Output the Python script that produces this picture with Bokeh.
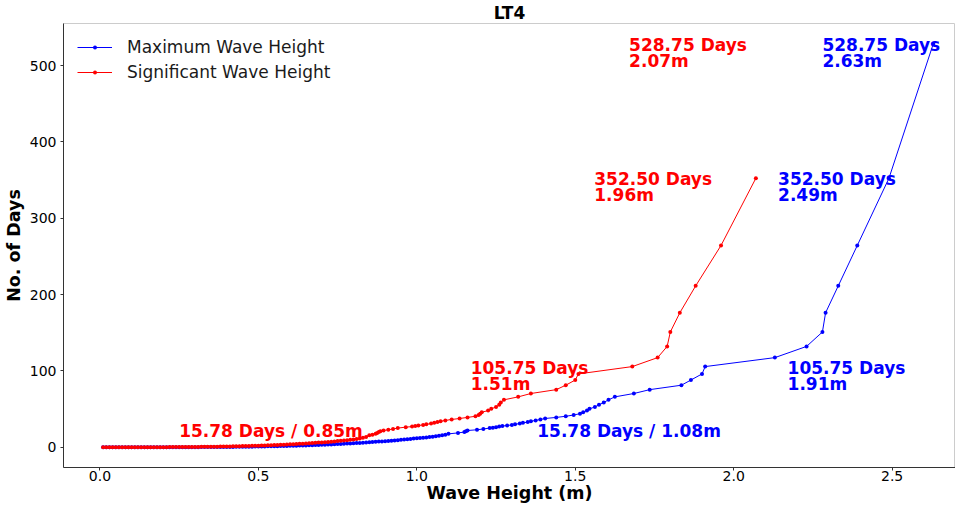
from bokeh.plotting import figure
from bokeh.models import Range1d, FixedTicker, PrintfTickFormatter, Legend, LegendItem, Label
from bokeh.core.properties import value
from bokeh.embed import file_html
from bokeh.resources import INLINE

# ---------------- data ----------------
title_text = "LT4"
x_label = "Wave Height (m)"
y_label = "No. of Days"
series_names = ["Maximum Wave Height", "Significant Wave Height"]
series_colors = ["#0000ff", "#ff0000"]
x_ticks = [0.0, 0.5, 1.0, 1.5, 2.0, 2.5]
y_ticks = [0, 100, 200, 300, 400, 500]
x_view = [-0.115, 2.70]      # visible x window of the reference (right side cropped)

# Maximum wave height (m) vs return period (days)
max_height = [
    0.01, 0.02, 0.03, 0.04, 0.05, 0.06, 0.07, 0.08, 0.09, 0.10,
    0.11, 0.12, 0.13, 0.14, 0.15, 0.16, 0.17, 0.18, 0.19, 0.20,
    0.21, 0.22, 0.23, 0.24, 0.25, 0.26, 0.27, 0.28, 0.29, 0.30,
    0.31, 0.32, 0.33, 0.34, 0.35, 0.36, 0.37, 0.38, 0.39, 0.40,
    0.41, 0.42, 0.43, 0.44, 0.45, 0.46, 0.47, 0.48, 0.49, 0.50,
    0.51, 0.52, 0.53, 0.54, 0.55, 0.56, 0.57, 0.58, 0.59, 0.60,
    0.61, 0.62, 0.63, 0.64, 0.65, 0.66, 0.67, 0.68, 0.69, 0.70,
    0.71, 0.72, 0.73, 0.74, 0.75, 0.76, 0.77, 0.78, 0.79, 0.80,
    0.81, 0.82, 0.83, 0.84, 0.85, 0.86, 0.87, 0.88, 0.89, 0.90,
    0.91, 0.92, 0.93, 0.94, 0.95, 0.96, 0.97, 0.98, 0.99, 1.00,
    1.01, 1.02, 1.03, 1.04, 1.05, 1.06, 1.07, 1.08,
    1.09, 1.10, 1.13, 1.15, 1.155, 1.16, 1.19, 1.21, 1.23, 1.24,
    1.25, 1.26, 1.27, 1.285, 1.30, 1.31, 1.325, 1.335, 1.35, 1.36,
    1.375, 1.39, 1.405, 1.44, 1.47, 1.495, 1.515, 1.525, 1.537, 1.545,
    1.562, 1.575, 1.59, 1.605, 1.625, 1.685, 1.735, 1.835, 1.865, 1.90,
    1.91, 2.13, 2.23, 2.28, 2.29, 2.33, 2.39, 2.49, 2.63,
]
max_days = [
    0.03, 0.03, 0.03, 0.03, 0.04, 0.04, 0.04, 0.04, 0.05, 0.05,
    0.05, 0.06, 0.06, 0.06, 0.07, 0.07, 0.08, 0.08, 0.09, 0.10,
    0.11, 0.12, 0.13, 0.14, 0.15, 0.16, 0.18, 0.19, 0.21, 0.23,
    0.25, 0.27, 0.29, 0.31, 0.34, 0.37, 0.40, 0.43, 0.46, 0.50,
    0.54, 0.58, 0.62, 0.67, 0.72, 0.77, 0.83, 0.89, 0.95, 1.02,
    1.09, 1.16, 1.24, 1.32, 1.41, 1.50, 1.60, 1.70, 1.80, 1.91,
    2.02, 2.14, 2.26, 2.39, 2.52, 2.66, 2.80, 2.95, 3.10, 3.30,
    3.48, 3.66, 3.85, 4.05, 4.25, 4.46, 4.67, 4.88, 5.10, 5.30,
    5.55, 5.80, 6.05, 6.30, 6.60, 6.90, 7.20, 7.50, 7.75, 8.00,
    8.30, 8.60, 9.00, 9.40, 9.80, 10.20, 10.60, 11.00, 11.40, 11.80,
    12.20, 12.60, 13.00, 13.40, 13.90, 14.40, 15.00, 15.78,
    16.52, 17.63, 18.88, 19.95, 21.15, 22.03, 22.99, 24.03, 25.18, 25.79,
    26.44, 27.12, 27.83, 28.58, 29.38, 30.21, 31.10, 32.05, 33.05, 34.11,
    35.25, 36.47, 37.77, 39.17, 40.67, 42.30, 44.06, 45.98, 48.07, 50.36,
    52.88, 55.66, 58.75, 62.21, 66.09, 70.50, 75.54, 81.35, 88.13, 96.14,
    105.75, 117.50, 132.19, 151.07, 176.25, 211.50, 264.38, 352.50, 528.75,
]

# Significant wave height (m) vs return period (days)
sig_height = [
    0.01, 0.02, 0.03, 0.04, 0.05, 0.06, 0.07, 0.08, 0.09, 0.10,
    0.11, 0.12, 0.13, 0.14, 0.15, 0.16, 0.17, 0.18, 0.19, 0.20,
    0.21, 0.22, 0.23, 0.24, 0.25, 0.26, 0.27, 0.28, 0.29, 0.30,
    0.31, 0.32, 0.33, 0.34, 0.35, 0.36, 0.37, 0.38, 0.39, 0.40,
    0.41, 0.42, 0.43, 0.44, 0.45, 0.46, 0.47, 0.48, 0.49, 0.50,
    0.51, 0.52, 0.53, 0.54, 0.55, 0.56, 0.57, 0.58, 0.59, 0.60,
    0.61, 0.62, 0.63, 0.64, 0.65, 0.66, 0.67, 0.68, 0.69, 0.70,
    0.71, 0.72, 0.73, 0.74, 0.75, 0.76, 0.77, 0.78, 0.79, 0.80,
    0.81, 0.82, 0.83, 0.84, 0.85,
    0.86, 0.87, 0.875, 0.88, 0.885, 0.895, 0.91, 0.925, 0.94, 0.965,
    0.985, 0.995, 1.005, 1.02, 1.03, 1.045, 1.055, 1.065, 1.075, 1.09,
    1.11, 1.135, 1.16, 1.185, 1.195, 1.20, 1.205, 1.225, 1.235, 1.25,
    1.26, 1.265, 1.275, 1.32, 1.36, 1.44, 1.47, 1.50, 1.51, 1.68,
    1.76, 1.79, 1.80, 1.83, 1.88, 1.96, 2.07,
]
sig_days = [
    0.05, 0.05, 0.06, 0.06, 0.07, 0.07, 0.08, 0.08, 0.09, 0.10,
    0.11, 0.12, 0.13, 0.14, 0.15, 0.16, 0.18, 0.19, 0.21, 0.23,
    0.25, 0.27, 0.29, 0.32, 0.35, 0.38, 0.41, 0.45, 0.49, 0.53,
    0.57, 0.62, 0.67, 0.72, 0.78, 0.84, 0.90, 0.97, 1.04, 1.12,
    1.20, 1.29, 1.38, 1.48, 1.58, 1.69, 1.80, 1.92, 2.05, 2.18,
    2.32, 2.47, 2.62, 2.78, 2.95, 3.12, 3.30, 3.49, 3.69, 3.90,
    4.12, 4.35, 4.58, 4.82, 5.07, 5.33, 5.60, 5.88, 6.17, 6.47,
    6.78, 7.10, 7.43, 7.78, 8.14, 8.52, 8.92, 9.34, 9.78, 10.25,
    10.80, 11.50, 12.40, 13.60, 15.78,
    16.52, 17.63, 18.88, 19.95, 21.15, 22.03, 22.99, 24.03, 25.18, 26.44,
    27.12, 27.83, 28.58, 29.38, 30.21, 31.10, 32.05, 33.05, 34.11, 35.25,
    36.47, 37.77, 39.17, 40.67, 42.30, 44.06, 45.98, 48.07, 50.36, 52.88,
    55.66, 58.75, 62.21, 66.09, 70.50, 75.54, 81.35, 88.13, 96.14, 105.75,
    117.50, 132.19, 151.07, 176.25, 211.50, 264.38, 352.50, 528.75,
]

# annotated points (height, days)
max_notes_h = [1.08, 1.91, 2.49, 2.63]
max_notes_d = [15.78, 105.75, 352.50, 528.75]
sig_notes_h = [0.85, 1.51, 1.96, 2.07]
sig_notes_d = [15.78, 105.75, 352.50, 528.75]

FONT = "DejaVu Sans"

all_d = max_days + sig_days
hy = (max(all_d) - min(0, min(all_d))) * 0.05

p = figure(width=955, height=503, output_backend="svg", toolbar_location=None,
           x_range=Range1d(x_view[0], x_view[1]),
           y_range=Range1d(0 - hy, max(all_d) + hy),
           min_border_left=57, min_border_right=0, min_border_top=22, min_border_bottom=20)

p.title.text = title_text
p.title.align = "center"
p.title.text_font = FONT
p.title.text_font_size = "17px"
p.title.text_font_style = "bold"
p.title.text_color = "#000000"
p.title.standoff = 1

p.background_fill_color = "white"
p.border_fill_color = "white"
p.outline_line_color = "#cccccc"
p.xgrid.visible = False
p.ygrid.visible = False

for ax in (p.xaxis, p.yaxis):
    ax.axis_line_color = "#333333"
    ax.major_tick_line_color = "#333333"
    ax.major_tick_in = 0
    ax.major_tick_out = 3
    ax.minor_tick_line_color = None
    ax.major_label_text_font = FONT
    ax.major_label_text_font_size = "14px"
    ax.major_label_text_color = "#000000"
    ax.axis_label_text_font = FONT
    ax.axis_label_text_font_size = "17.5px"
    ax.axis_label_text_font_style = "bold"
    ax.axis_label_text_color = "#000000"

p.xaxis.ticker = FixedTicker(ticks=x_ticks)
p.xaxis.formatter = PrintfTickFormatter(format="%.1f")
p.yaxis.ticker = FixedTicker(ticks=y_ticks)
p.yaxis.axis_label = y_label
p.xaxis.major_label_standoff = 0
p.yaxis.major_label_standoff = 4
p.yaxis.axis_label_standoff = 3

# x-axis title drawn as a label in the panel below the x axis
p.add_layout(Label(x=(x_view[0] + x_view[1]) / 2, y=11, x_units="data", y_units="screen",
                   text=x_label, text_font=FONT, text_font_size="17.5px", text_font_style="bold",
                   text_color="#000000", text_align="center", text_baseline="middle"), "below")

renderers = []
for hs, ds, col in ((max_height, max_days, series_colors[0]),
                    (sig_height, sig_days, series_colors[1])):
    ln = p.line(hs, ds, line_color=col, line_width=1)
    sc = p.scatter(hs, ds, size=4, marker="circle", fill_color=col, line_color=None)
    renderers.append([ln, sc])

legend = Legend(items=[LegendItem(label=series_names[i], renderers=renderers[i]) for i in range(2)],
                location="top_left")
legend.margin = 8
legend.padding = 6
legend.spacing = 5
legend.label_height = 20
legend.glyph_height = 10
legend.glyph_width = 35
legend.label_standoff = 15
legend.label_text_font = FONT
legend.label_text_font_size = "17px"
legend.label_text_color = "#1a1a1a"
legend.background_fill_alpha = 0
legend.border_line_alpha = 0
p.add_layout(legend)


def note(xs, ys, texts, col, yoff):
    p.text(xs, ys, text=texts, text_color=col, text_font=value(FONT), text_font_size="17px",
           text_font_style="bold", text_baseline="alphabetic", text_align="left", y_offset=yoff)


def fmt_days(d):
    return "%.2f Days" % d


def fmt_m(h):
    return "%.2fm" % h


# single-line low labels
note([sig_notes_h[0] - 0.6], [sig_notes_d[0]],
     [fmt_days(sig_notes_d[0]) + " / " + fmt_m(sig_notes_h[0])], series_colors[1], -4)
note([max_notes_h[0] + 0.3], [max_notes_d[0]],
     [fmt_days(max_notes_d[0]) + " / " + fmt_m(max_notes_h[0])], series_colors[0], -4)

# two-line labels
sig_dx = [-0.34, -0.40, -0.40]
max_dx = [0.26, -0.35, -0.35]
for i in range(1, 4):
    for hs, ds, dx, col in ((sig_notes_h, sig_notes_d, sig_dx, series_colors[1]),
                            (max_notes_h, max_notes_d, max_dx, series_colors[0])):
        note([hs[i] + dx[i - 1]], [ds[i]], [fmt_days(ds[i])], col, 1)
        note([hs[i] + dx[i - 1]], [ds[i]], [fmt_m(hs[i])], col, 17)

open("out.html", "w").write(file_html(p, INLINE))
